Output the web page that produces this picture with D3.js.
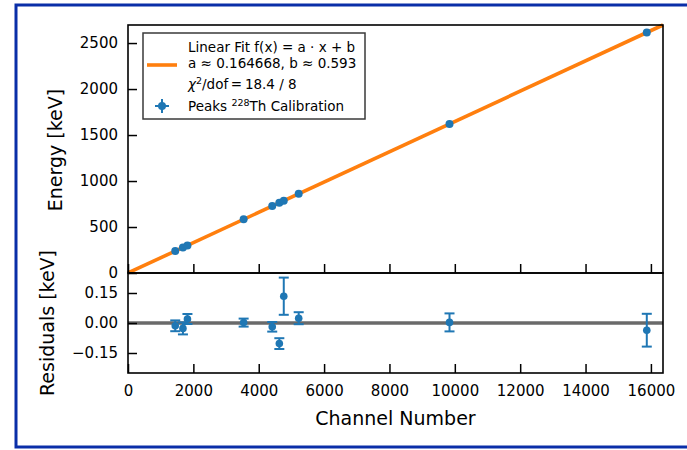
<!DOCTYPE html>
<html><head><meta charset="utf-8">
<script src="https://cdn.jsdelivr.net/npm/d3@7"></script>
<style>
html,body{margin:0;padding:0;background:#fff;}
svg{display:block;font-family:"DejaVu Sans",sans-serif;}
</style></head>
<body>
<svg id="c" width="687" height="450"></svg>
<script>
// Data
const channels = [1445.4, 1681.0, 1818.9, 3538.1, 4413.2, 4630.6, 4766.0, 5222.7, 9837.5, 15874.0];
const energies = [238.6, 277.4, 300.1, 583.2, 727.3, 763.1, 785.4, 860.6, 1620.5, 2614.5];
const residuals = [-0.014, -0.027, 0.020, 0.002, -0.019, -0.103, 0.134, 0.024, 0.003, -0.036];
const residualErrors = [0.027, 0.030, 0.025, 0.020, 0.024, 0.027, 0.093, 0.030, 0.045, 0.082];
const fitA = 0.164668, fitB = 0.593;
const xTicks = [0, 2000, 4000, 6000, 8000, 10000, 12000, 14000, 16000];
const yTicks = [0, 500, 1000, 1500, 2000, 2500];
const rTicks = [-0.15, 0, 0.15];
const xMax = 16370;
const legendLines = ["Linear Fit f(x) = a \u00b7 x + b", "a \u2248 0.164668, b \u2248 0.593"];

const svg = d3.select("#c");
const L = 128, R = 663, T1 = 25, B1 = 273, T2 = 273, B2 = 373;
const blue = "#1f77b4", orange = "#ff7f0e";

// outer frame
svg.append("rect").attr("x", 16).attr("y", 5).attr("width", 700).attr("height", 442)
  .attr("fill", "none").attr("stroke", "#0a2ea8").attr("stroke-width", 3);

const x = d3.scaleLinear().domain([0, xMax]).range([L, R]);
const y = d3.scaleLinear().domain([0, fitA * xMax + fitB]).range([B1, T1]);
const yr = d3.scaleLinear().domain([-0.25, 0.25]).range([B2, T2]);

const fmtMinus = s => s.replace("-", "\u2212");

// top panel
const gTop = svg.append("g");
gTop.append("line").attr("x1", x(0)).attr("y1", y(fitB)).attr("x2", x(xMax)).attr("y2", y(fitA * xMax + fitB))
  .attr("stroke", orange).attr("stroke-width", 3.6);
gTop.selectAll("circle.p").data(channels).enter().append("circle")
  .attr("cx", d => x(d)).attr("cy", (d, i) => y(energies[i])).attr("r", 4).attr("fill", blue);

// axes top
const axT = d3.axisBottom(x).tickValues(xTicks).tickSize(-9).tickFormat("");
const gxT = svg.append("g").attr("transform", `translate(0,${B1})`).call(axT);
const axY = d3.axisLeft(y).tickValues(yTicks).tickSize(-9).tickPadding(10).tickFormat(d3.format("d"));
const gyT = svg.append("g").attr("transform", `translate(${L},0)`).call(axY);

// bottom panel
const gBot = svg.append("g");
gBot.append("line").attr("x1", L).attr("x2", R).attr("y1", yr(0)).attr("y2", yr(0))
  .attr("stroke", "#6a6a6a").attr("stroke-width", 3.6);
const eb = gBot.selectAll("g.eb").data(channels).enter().append("g").attr("fill", blue).attr("stroke", blue);
eb.append("line").attr("x1", d => x(d)).attr("x2", d => x(d))
  .attr("y1", (d, i) => yr(residuals[i] - residualErrors[i])).attr("y2", (d, i) => yr(residuals[i] + residualErrors[i]))
  .attr("stroke-width", 2);
[-1, 1].forEach(s => {
  eb.append("line").attr("x1", d => x(d) - 5).attr("x2", d => x(d) + 5)
    .attr("y1", (d, i) => yr(residuals[i] + s * residualErrors[i])).attr("y2", (d, i) => yr(residuals[i] + s * residualErrors[i]))
    .attr("stroke-width", 2);
});
eb.append("circle").attr("cx", d => x(d)).attr("cy", (d, i) => yr(residuals[i])).attr("r", 3.8).attr("stroke", "none");

const axB = d3.axisBottom(x).tickValues(xTicks).tickSize(-9).tickPadding(12).tickFormat(d3.format("d"));
const gxB = svg.append("g").attr("transform", `translate(0,${B2})`).call(axB);
const axR = d3.axisLeft(yr).tickValues(rTicks).tickSize(-9).tickPadding(10).tickFormat(d => fmtMinus(d3.format(".2f")(d)));
const gyR = svg.append("g").attr("transform", `translate(${L},0)`).call(axR);

[gxT, gyT, gxB, gyR].forEach(g => {
  g.select(".domain").remove();
  g.selectAll(".tick line").attr("stroke", "#000").attr("stroke-width", 1.5);
  g.selectAll(".tick text").attr("font-size", 15).attr("fill", "#000").attr("font-family", "DejaVu Sans");
});

// spines
[[T1, B1], [T2, B2]].forEach(([t, b]) => {
  svg.append("rect").attr("x", L).attr("y", t).attr("width", R - L).attr("height", b - t)
    .attr("fill", "none").attr("stroke", "#000").attr("stroke-width", 1.6);
});

// labels
svg.append("text").attr("transform", `translate(62,${(T1 + B1) / 2 + 1}) rotate(-90)`).attr("text-anchor", "middle")
  .attr("font-size", 19).text("Energy [keV]");
svg.append("text").attr("transform", `translate(54,${(T2 + B2) / 2}) rotate(-90)`).attr("text-anchor", "middle")
  .attr("font-size", 19).text("Residuals [keV]");
svg.append("text").attr("x", (L + R) / 2).attr("y", 425).attr("text-anchor", "middle")
  .attr("font-size", 19).text("Channel Number");

// legend
const lg = svg.append("g");
lg.append("rect").attr("x", 143).attr("y", 33).attr("width", 222).attr("height", 86)
  .attr("fill", "#fff").attr("stroke", "#3a3a3a").attr("stroke-width", 1.5);
lg.append("line").attr("x1", 147).attr("x2", 177).attr("y1", 65).attr("y2", 65).attr("stroke", orange).attr("stroke-width", 3.6);
const tx = 188;
lg.append("text").attr("x", tx).attr("y", 52).attr("font-size", 13.5).text(legendLines[0]);
lg.append("text").attr("x", tx).attr("y", 68).attr("font-size", 13.5).text(legendLines[1]);
const chi = lg.append("text").attr("x", tx).attr("y", 89).attr("font-size", 13.5);
chi.append("tspan").attr("font-style", "italic").text("\u03c7");
chi.append("tspan").attr("font-size", 9.5).attr("dy", -5).text("2");
chi.append("tspan").attr("dy", 5).text("/dof\u2009=\u200918.4 / 8");
const pk = lg.append("text").attr("x", tx).attr("y", 111).attr("font-size", 13.5);
pk.append("tspan").text("Peaks ");
pk.append("tspan").attr("font-size", 9.5).attr("dy", -5).text("228");
pk.append("tspan").attr("dy", 5).text("Th Calibration");
// legend marker (errorbar cross)
const mx = 162, my = 106;
lg.append("line").attr("x1", mx - 7).attr("x2", mx + 7).attr("y1", my).attr("y2", my).attr("stroke", blue).attr("stroke-width", 2);
lg.append("line").attr("x1", mx).attr("x2", mx).attr("y1", my - 7).attr("y2", my + 7).attr("stroke", blue).attr("stroke-width", 2);
lg.append("circle").attr("cx", mx).attr("cy", my).attr("r", 4).attr("fill", blue);
</script>
</body></html>
